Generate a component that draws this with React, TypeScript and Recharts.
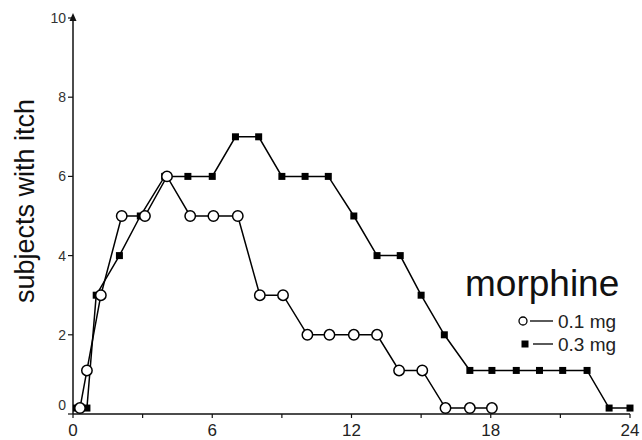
import React from 'react';
import { LineChart, Line, XAxis, YAxis } from 'recharts';

// ---- data ----
const dose01Times = [0.3, 0.6, 1.2, 2.1, 3.1, 4.05, 5.05, 6.05, 7.1, 8.05, 9.05, 10.1, 11.05, 12.1, 13.1, 14.05, 15.05, 16.05, 17.1, 18.05];
const dose01Subjects = [0.15, 1.1, 3, 5, 5, 6, 5, 5, 5, 3, 3, 2, 2, 2, 2, 1.1, 1.1, 0.15, 0.15, 0.15];

const dose03Times = [0.15, 0.6, 1, 2, 2.9, 3.95, 4.95, 6, 7, 8, 9, 10, 11, 12.1, 13.1, 14.1, 15, 16, 17.1, 18.05, 19.1, 20.1, 21.1, 22.15, 23.1, 24];
const dose03Subjects = [0.15, 0.15, 3, 4, 5, 6, 6, 6, 7, 7, 6, 6, 6, 5, 4, 4, 3, 2, 1.1, 1.1, 1.1, 1.1, 1.1, 1.1, 0.15, 0.15];

const xTicks = [0, 3, 6, 9, 12, 15, 18, 21, 24];
const xLabelledTicks = [0, 6, 12, 18, 24];
const yTicks = [0, 2, 4, 6, 8, 10];

const yTitle = 'subjects with itch';
const legendTitle = 'morphine';
const seriesNames = ['0.1 mg', '0.3 mg'];

const series01 = dose01Times.map((t, i) => ({ time: t, subjects: dose01Subjects[i] }));
const series03 = dose03Times.map((t, i) => ({ time: t, subjects: dose03Subjects[i] }));

const FONT = '"Liberation Sans", Arial, Helvetica, sans-serif';
const INK = '#111';

const SquareDot = (props: any) => {
  const { cx, cy, index } = props;
  if (cx == null || cy == null) return <g key={`sq-${index}`} />;
  return <rect key={`sq-${index}`} x={cx - 3.5} y={cy - 3.5} width={7} height={7} fill="#000" />;
};

const YTick = (props: any) => {
  const { x, y, payload } = props;
  const v = payload.value;
  const axisX = x + 7;
  return (
    <g>
      <text x={x} y={v === 0 ? y - 9 : y} textAnchor="end" dominantBaseline="central" fontSize={14} fill="#333" fontFamily={FONT}>
        {v}
      </text>
      {v === 10 && (
        <polygon points={`${axisX},${y - 5} ${axisX - 3.5},${y + 3} ${axisX + 3.5},${y + 3}`} fill={INK} />
      )}
    </g>
  );
};

const XTick = (props: any) => {
  const { x, y, payload } = props;
  const v = payload.value;
  if (!xLabelledTicks.includes(v)) return <g />;
  return (
    <text x={x} y={y + 12} textAnchor="middle" fontSize={17} fill="#222" fontFamily={FONT}>
      {v}
    </text>
  );
};

const YTitle = () => (
  <text x={34} y={201} transform="rotate(-90 34 201)" textAnchor="middle" fontSize={27} fill="#111" fontFamily={FONT}>
    {yTitle}
  </text>
);

export default function App() {
  return (
    <div style={{ position: 'absolute', left: 0, top: 0, width: 642, height: 440, background: '#fff' }}>
      <LineChart width={642} height={440} margin={{ top: 18, right: 12, bottom: 0, left: 0 }}>
        <XAxis
          type="number"
          dataKey="time"
          domain={[0, 24]}
          ticks={xTicks}
          interval={0}
          tickSize={4}
          tickMargin={6}
          height={26}
          axisLine={{ stroke: INK, strokeWidth: 1.5 }}
          tickLine={{ stroke: INK, strokeWidth: 1.2 }}
          tick={<XTick />}
          allowDecimals
        />
        <YAxis
          type="number"
          domain={[0, 10]}
          ticks={yTicks}
          interval={0}
          width={73}
          tickSize={5}
          tickMargin={2}
          axisLine={{ stroke: INK, strokeWidth: 1.5 }}
          tickLine={{ stroke: INK, strokeWidth: 1.2 }}
          tick={<YTick />}
          label={<YTitle />}
        />
        <Line
          data={series03}
          dataKey="subjects"
          name={seriesNames[1]}
          stroke="#000"
          strokeWidth={1.5}
          dot={<SquareDot />}
          isAnimationActive={false}
        />
        <Line
          data={series01}
          dataKey="subjects"
          name={seriesNames[0]}
          stroke="#000"
          strokeWidth={1.5}
          dot={{ r: 5.2, fill: '#fff', stroke: '#000', strokeWidth: 1.5 }}
          isAnimationActive={false}
        />
      </LineChart>
      <svg width={642} height={440} style={{ position: 'absolute', left: 0, top: 0, pointerEvents: 'none' }}>
        <text x={465} y={296} fontSize={37} fill="#111" fontFamily={FONT}>{legendTitle}</text>
        <circle cx={523} cy={321} r={4} fill="#fff" stroke="#000" strokeWidth={1.3} />
        <line x1={530} x2={553} y1={321} y2={321} stroke="#000" strokeWidth={1.3} />
        <text x={558} y={321} dominantBaseline="central" fontSize={19} fill="#222" fontFamily={FONT}>{seriesNames[0]}</text>
        <rect x={521.5} y={340.5} width={7} height={7} fill="#000" />
        <line x1={533} x2={553} y1={344} y2={344} stroke="#000" strokeWidth={1.3} />
        <text x={558} y={344} dominantBaseline="central" fontSize={19} fill="#222" fontFamily={FONT}>{seriesNames[1]}</text>
      </svg>
    </div>
  );
}
